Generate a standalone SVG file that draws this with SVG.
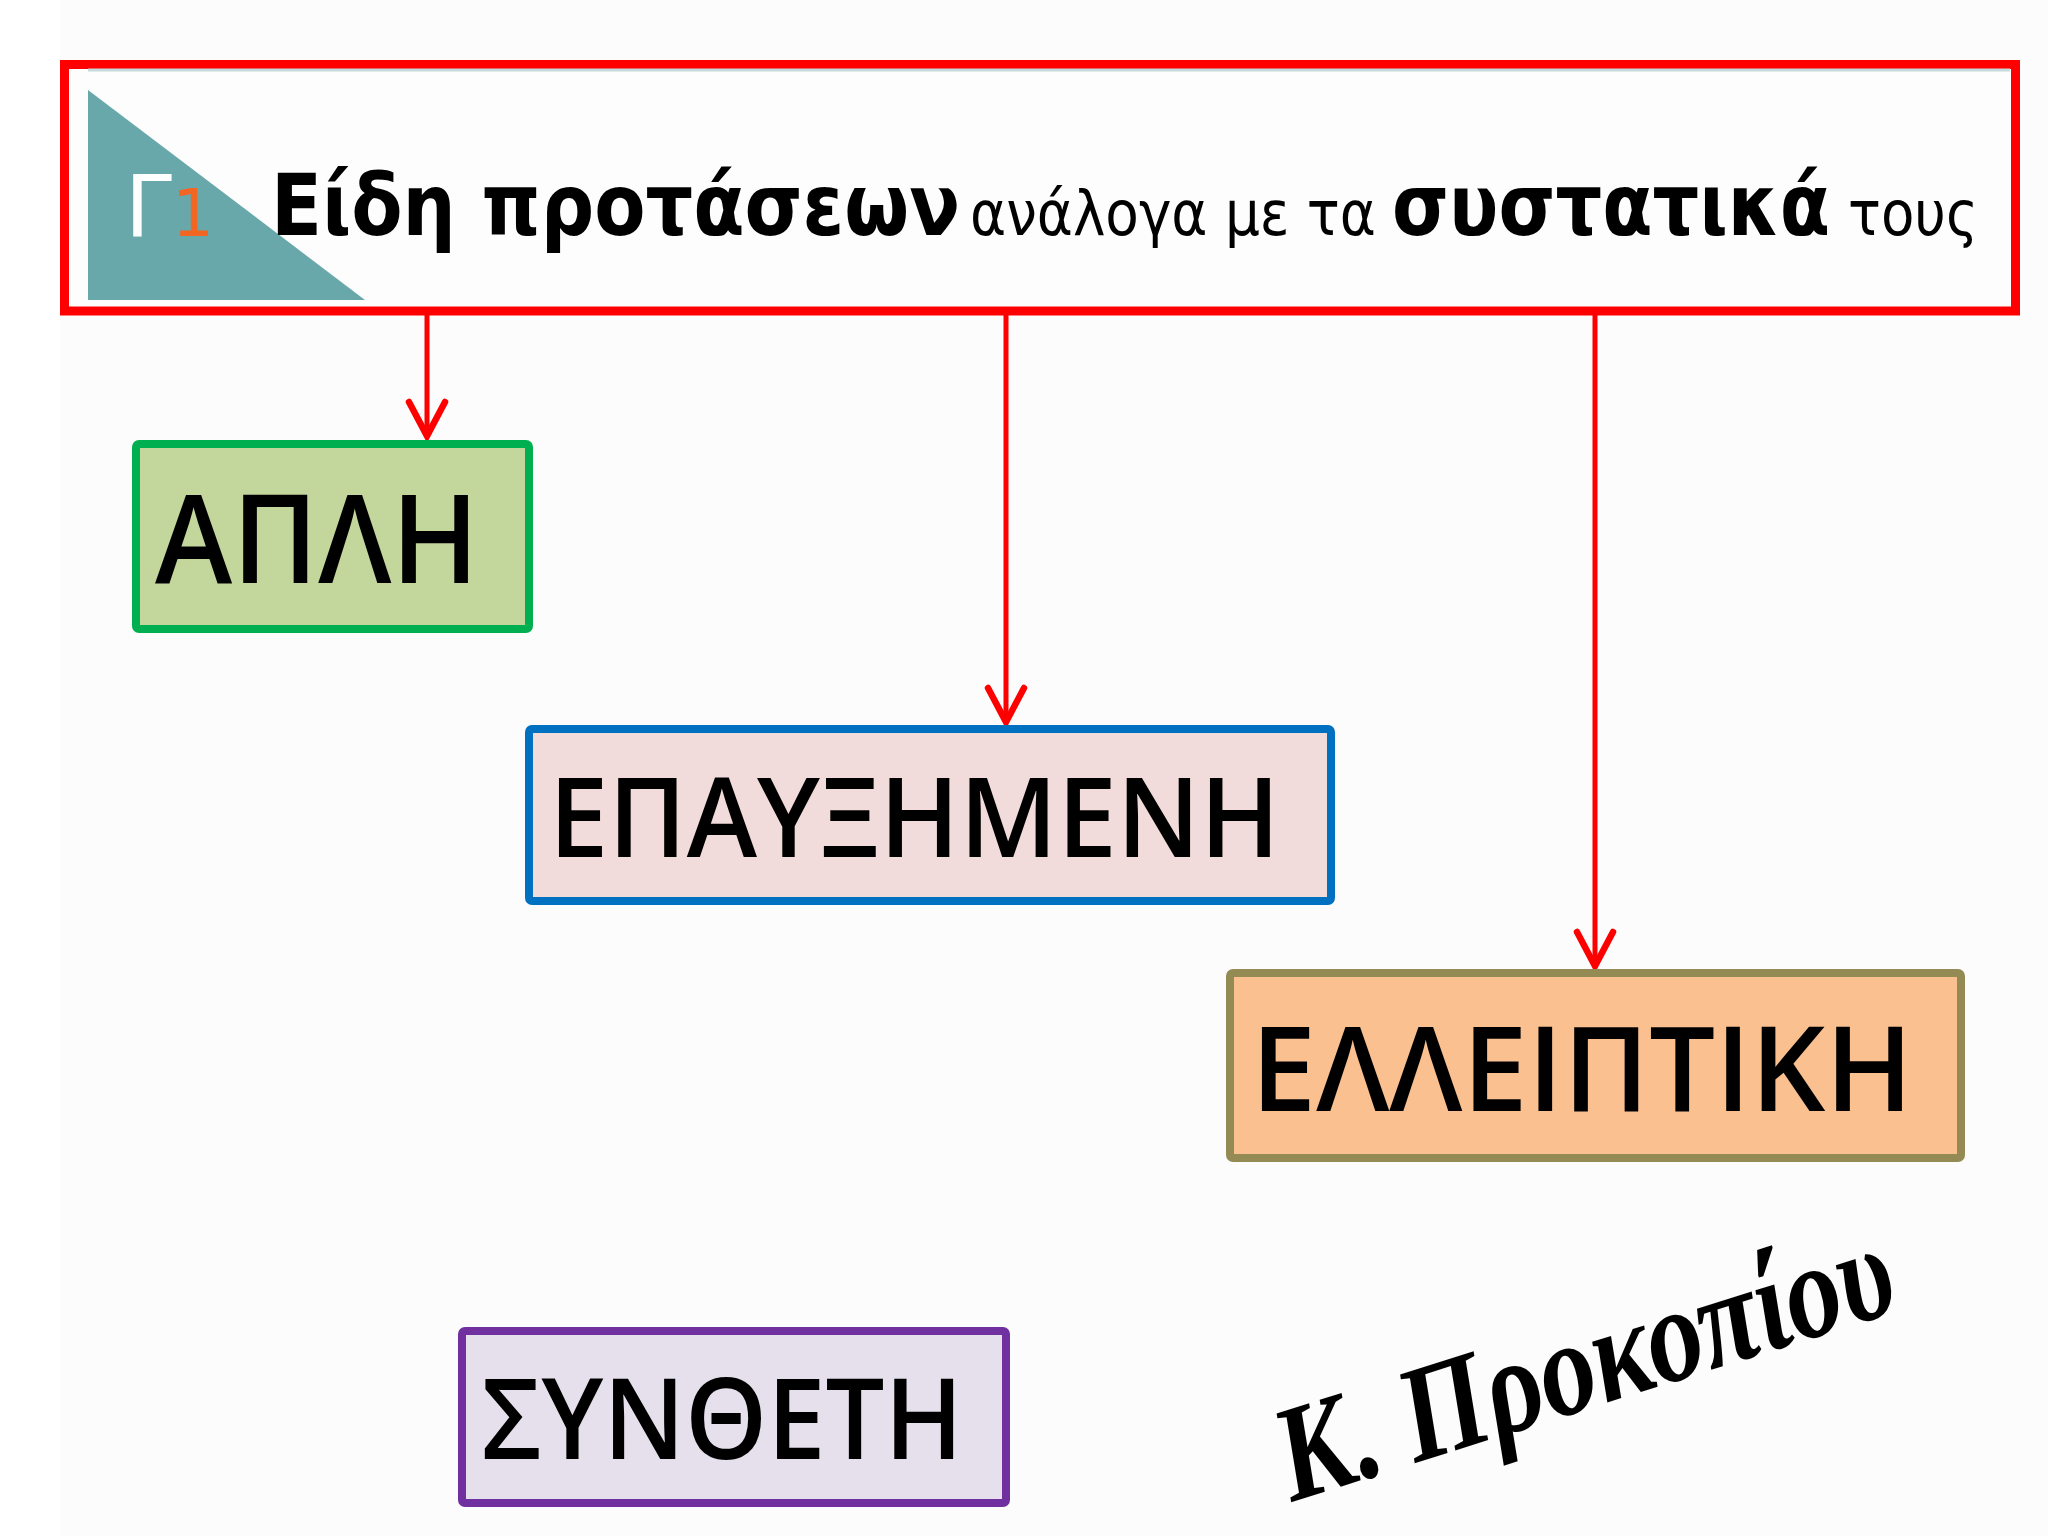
<svg xmlns="http://www.w3.org/2000/svg" width="2048" height="1536" viewBox="0 0 2048 1536">
<style>
.box{stroke-width:8}
.lbl{font-family:"Open Sans","Noto Sans","DejaVu Sans",sans-serif;font-weight:600;fill:#000}
.bold{font-family:"DejaVu Sans Condensed","DejaVu Sans","Liberation Sans",sans-serif;font-weight:bold;font-size:85px;fill:#000}
.reg{font-family:"DejaVu Sans Condensed","Open Sans",sans-serif;font-size:62px;fill:#000}
.conn{stroke:#ff0000;stroke-width:5;fill:none}
</style>
<defs>
<marker id="arr" markerUnits="userSpaceOnUse" viewBox="-45 -30 50 60" markerWidth="50" markerHeight="60" refX="0" refY="0" orient="auto" overflow="visible">
<path d="M-34,-18 L0,0 L-34,18" fill="none" stroke="#ff0000" stroke-width="6.5" stroke-linecap="round" stroke-linejoin="miter"/>
</marker>
</defs>
<rect x="0" y="0" width="2048" height="1536" fill="#ffffff"/>
<rect x="60" y="0" width="1988" height="1536" fill="#fcfcfc"/>

<g id="header">
<rect x="64.5" y="64.5" width="1951" height="246.5" fill="#fdfdfd" stroke="#ff0000" stroke-width="9"/>
<line x1="88" y1="70" x2="2010" y2="70" stroke="#c4dadb" stroke-width="3"/>
<polygon points="88,90 365,300 88,300" fill="#68a8aa"/>
<text x="125" y="236" font-family="DejaVu Sans,sans-serif" font-size="86" fill="#ffffff" textLength="47" lengthAdjust="spacingAndGlyphs">Γ</text>
<text x="172" y="236" font-family="DejaVu Sans,sans-serif" font-size="66" fill="#f26522">1</text>
<text x="271" y="235" class="bold" textLength="689" lengthAdjust="spacingAndGlyphs">Είδη προτάσεων</text>
<text x="970" y="235" class="reg" textLength="406" lengthAdjust="spacingAndGlyphs">ανάλογα με τα</text>
<text x="1392" y="235" class="bold" textLength="438" lengthAdjust="spacingAndGlyphs">συστατικά</text>
<text x="1848" y="235" class="reg" textLength="130" lengthAdjust="spacingAndGlyphs">τους</text>
</g>

<g id="connectors">
<line class="conn" x1="427" y1="315" x2="427" y2="436" marker-end="url(#arr)"/>
<line class="conn" x1="1006" y1="315" x2="1006" y2="722" marker-end="url(#arr)"/>
<line class="conn" x1="1595" y1="315" x2="1595" y2="966" marker-end="url(#arr)"/>
</g>

<g id="apli">
<rect class="box" x="136" y="444" width="393" height="185" rx="3" fill="#c3d69b" stroke="#00b050"/>
<text class="lbl" x="155" y="583" font-size="123" textLength="324" lengthAdjust="spacingAndGlyphs">ΑΠΛΗ</text>
</g>

<g id="epauksimeni">
<rect class="box" x="529" y="729" width="802" height="172" rx="3" fill="#f2dcdb" stroke="#0070c0"/>
<text class="lbl" x="549" y="857" font-size="111" textLength="731" lengthAdjust="spacingAndGlyphs">ΕΠΑΥΞΗΜΕΝΗ</text>
</g>

<g id="elleiptiki">
<rect class="box" x="1230" y="973" width="731" height="185" rx="3" fill="#fac090" stroke="#948a54"/>
<text class="lbl" x="1251" y="1111" font-size="118" textLength="662" lengthAdjust="spacingAndGlyphs">ΕΛΛΕΙΠΤΙΚΗ</text>
</g>

<g id="syntheti">
<rect class="box" x="462" y="1331" width="544" height="172" rx="3" fill="#e6e0ec" stroke="#7030a0"/>
<text class="lbl" x="481" y="1459" font-size="112" textLength="482" lengthAdjust="spacingAndGlyphs">ΣΥΝΘΕΤΗ</text>
</g>

<g id="signature">
<text x="1292" y="1502" transform="rotate(-17.5 1292 1502)" font-family="Liberation Serif,DejaVu Serif,serif" font-style="italic" font-weight="bold" font-size="136" fill="#000" textLength="640" lengthAdjust="spacingAndGlyphs">Κ. Προκοπίου</text>
</g>
</svg>
